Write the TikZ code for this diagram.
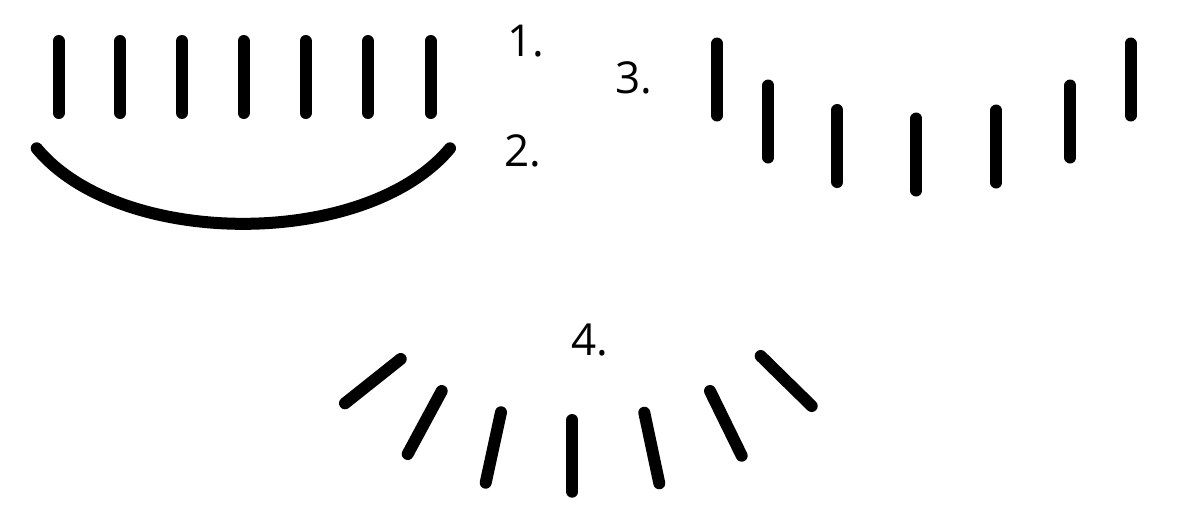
\documentclass[tikz,border=0pt]{standalone}
\usepackage{fontspec}
\setmainfont{Open Sans}
\begin{document}
\begin{tikzpicture}[x=1pt,y=-1pt,
  bar/.style={line width=12pt,line cap=round},
  lbl/.style={anchor=base west,inner sep=0pt,font=\fontsize{44}{44}\selectfont}]
\useasboundingbox[fill=white] (0,0) rectangle (1186,530);
% group 1
\foreach \x in {58.7,120.3,182,243.5,305.5,368,430.5}
  \draw[bar] (\x,41) -- (\x,113);
% group 2
\draw[bar] (36.7,148.3) .. controls (120,249) and (366,249) .. (450,148.3);
% group 3
\foreach \x/\t/\b in {717/43.5/115.5,768.3/85.5/157.5,837.3/110/182,916.3/118.5/190.5,996.3/110.5/182.5,1070.3/85.5/157.5,1130.5/43.5/115.5}
  \draw[bar] (\x,\t) -- (\x,\b);
% group 4
\draw[bar] (345,403.3) -- (400.7,359);
\draw[bar] (407.7,454) -- (441.7,391);
\draw[bar] (485.7,482.7) -- (501,412.3);
\draw[bar] (572.3,491.7) -- (572.3,420);
\draw[bar] (659.3,483.3) -- (644.3,412.7);
\draw[bar] (741.7,455.7) -- (710,391);
\draw[bar] (811.7,406) -- (760.7,356);
% labels
\node[lbl] (l1) at (507,56) {1.};
\node[lbl] (l2) at (504,166.5) {2.};
\node[lbl] (l3) at (615,93.5) {3.};
\node[lbl] (l4) at (571,355.5) {4.};
\end{tikzpicture}
\end{document}
